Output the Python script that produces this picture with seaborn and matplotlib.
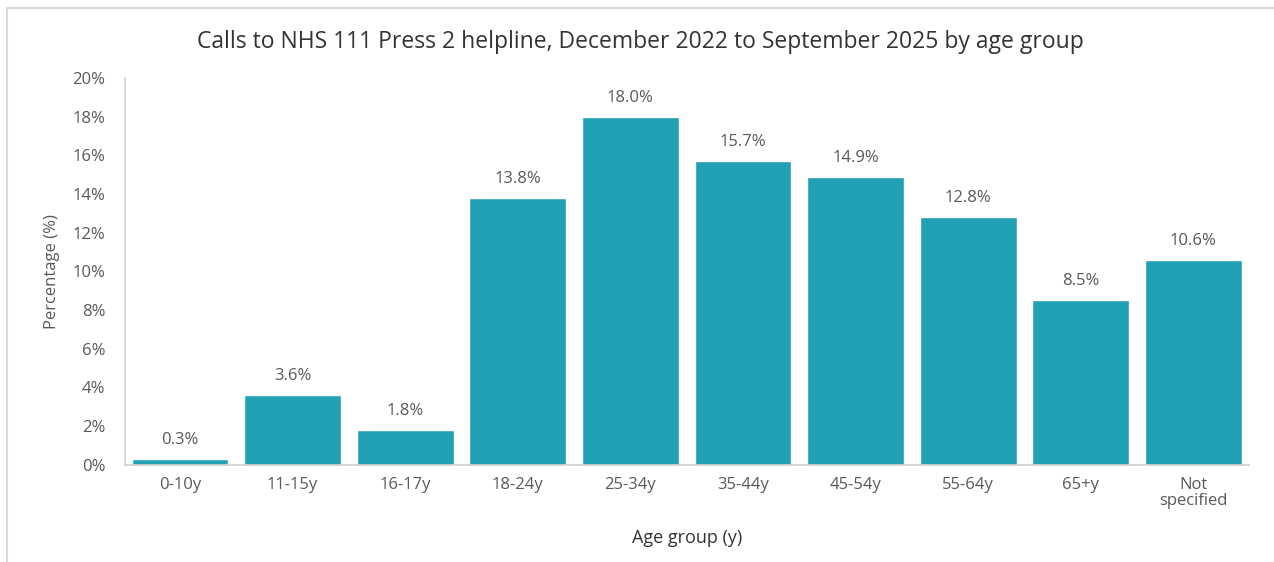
import matplotlib
matplotlib.use("Agg")
import matplotlib.pyplot as plt
import matplotlib.lines as mlines
import pandas as pd
import seaborn as sns
from matplotlib.ticker import FuncFormatter, MultipleLocator

# Share of calls by age group (%)
age_groups = ["0-10y", "11-15y", "16-17y", "18-24y", "25-34y", "35-44y",
              "45-54y", "55-64y", "65+y", "Not\nspecified"]
percentages = [0.3, 3.6, 1.8, 13.8, 18.0, 15.7, 14.9, 12.8, 8.5, 10.6]

df = pd.DataFrame({"age": age_groups, "pct": percentages})

sns.set_theme(style="white")
plt.rcParams["font.family"] = ["Open Sans", "DejaVu Sans"]

BAR = "#22a1b4"
TXT = "#595959"

fig = plt.figure(figsize=(12.74, 5.62), dpi=100)
ax = fig.add_axes([0.098, 0.173, 0.882, 0.688])

sns.barplot(data=df, x="age", y="pct", color=BAR, saturation=1,
            width=0.86, ax=ax)

ax.set_ylim(0, 20)
ax.set_xlim(-0.49, len(age_groups) - 0.51)
ax.yaxis.set_major_locator(MultipleLocator(2))
ax.yaxis.set_major_formatter(FuncFormatter(lambda v, _: f"{v:.0f}%"))
ax.tick_params(axis="both", labelsize=12, colors=TXT, length=0)
ax.tick_params(axis="x", pad=9)
ax.tick_params(axis="y", pad=14)
for lbl in ax.get_xticklabels():
    lbl.set_linespacing(1.0)

for side in ["top", "right"]:
    ax.spines[side].set_visible(False)
for side in ["left", "bottom"]:
    ax.spines[side].set_color("#d0d0d0")
    ax.spines[side].set_linewidth(1.2)

for patch, val in zip(ax.patches, percentages):
    ax.annotate(f"{val:.1f}%",
                (patch.get_x() + patch.get_width() / 2, patch.get_height()),
                xytext=(0, 8), textcoords="offset points",
                ha="center", va="bottom", fontsize=12, color=TXT)

ax.set_xlabel("Age group (y)", fontsize=13, color="#333333", labelpad=14)
ax.set_ylabel("Percentage (%)", fontsize=12, color=TXT, labelpad=9)

fig.text(0.503, 0.925, "Calls to NHS 111 Press 2 helpline, December 2022 to September 2025 by age group",
         ha="center", va="center", fontsize=16.5, color="#333333")

# Frame lines along the top and left edges
fig.add_artist(mlines.Line2D([0.0055, 1.0], [0.986, 0.986], color="#d9d9d9",
                             lw=1.5, transform=fig.transFigure))
fig.add_artist(mlines.Line2D([0.0055, 0.0055], [0.0, 0.986], color="#d9d9d9",
                             lw=1.5, transform=fig.transFigure))

fig.savefig("out.png", dpi=100, facecolor="white")
